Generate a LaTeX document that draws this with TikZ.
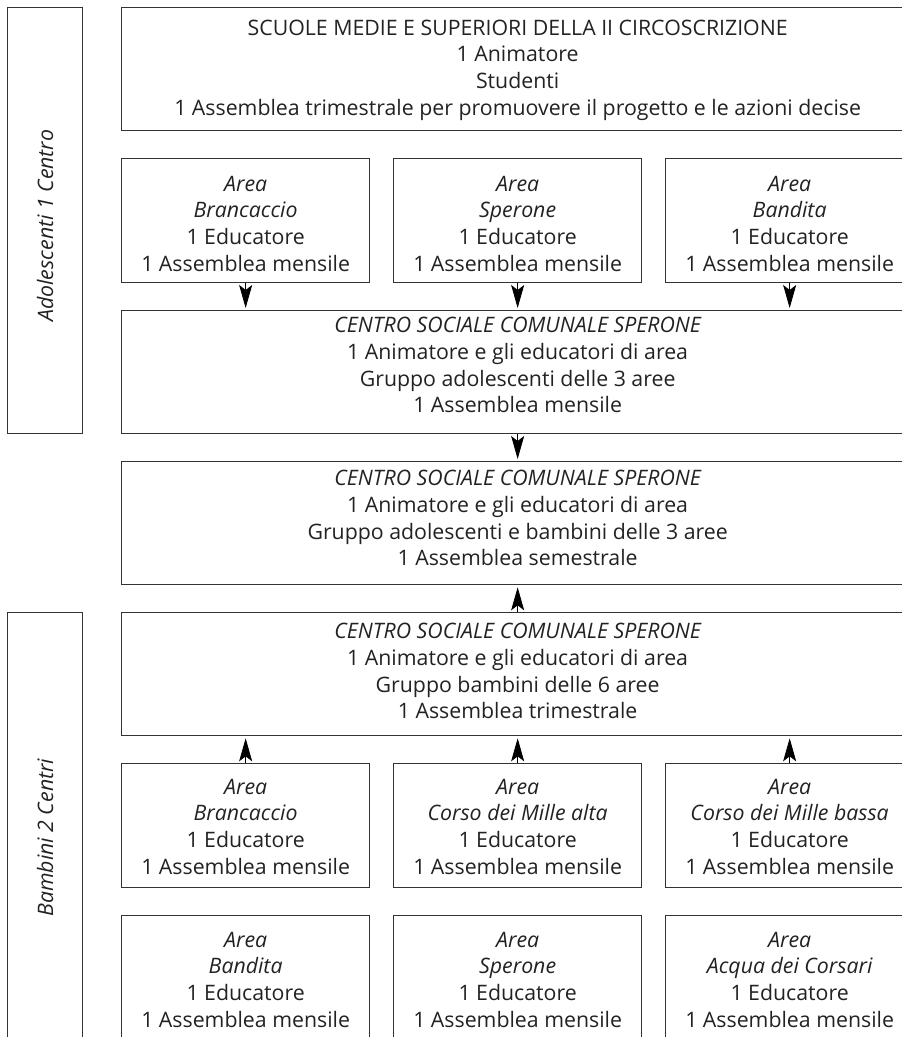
\documentclass[tikz,border=0pt]{standalone}
\usepackage{fontspec}
\setmainfont{Open Sans}
\usetikzlibrary{arrows.meta}
\definecolor{ln}{HTML}{333333}
\definecolor{tx}{HTML}{222222}
\begin{document}
\begin{tikzpicture}[x=1pt,y=-1pt,
  box/.style={draw=ln,line width=1.3pt,rectangle,inner sep=0pt,anchor=north west},
  txt/.style={align=center,text=tx,font=\fontsize{21.3}{26.7}\selectfont,inner sep=0pt},
  side/.style={txt,rotate=90,font=\fontsize{21.3}{26.7}\selectfont\itshape},
  arr/.style={draw=black,line width=0.8pt,-{Stealth[length=23pt,width=13pt,inset=5pt]},shorten >=2pt}]
\useasboundingbox (0,0) rectangle (902,1037);
\clip (0,0) rectangle (902,1037);
% side boxes
\node[box,minimum width=75pt,minimum height=426pt] (s1) at (7,7) {};
\node[side] (s1t) at ([yshift=-5pt]s1.center) {Adolescenti 1 Centro};
\node[box,minimum width=75pt,minimum height=450pt] (s2) at (7,612) {};
\node[side] (s2t) at (s2.center) {Bambini 2 Centri};
% top box
\node[box,minimum width=792pt,minimum height=123pt] (top) at (121,7) {};
\node[txt] (topt) at ([yshift=-1pt]top.center) {SCUOLE MEDIE E SUPERIORI DELLA II CIRCOSCRIZIONE\\1 Animatore\\Studenti\\1 Assemblea trimestrale per promuovere il progetto e le azioni decise};
% area row 1
\node[box,minimum width=248pt,minimum height=124pt] (a1) at (121,158) {};
\node[box,minimum width=248pt,minimum height=124pt] (a2) at (393,158) {};
\node[box,minimum width=248pt,minimum height=124pt] (a3) at (665,158) {};
\node[txt] (a1t) at ([yshift=-3pt]a1.center) {\itshape Area\\\itshape Brancaccio\\1 Educatore\\1 Assemblea mensile};
\node[txt] (a2t) at ([yshift=-3pt]a2.center) {\itshape Area\\\itshape Sperone\\1 Educatore\\1 Assemblea mensile};
\node[txt] (a3t) at ([yshift=-3pt]a3.center) {\itshape Area\\\itshape Bandita\\1 Educatore\\1 Assemblea mensile};
% centro boxes
\node[box,minimum width=792pt,minimum height=123pt] (c1) at (121,310) {};
\node[txt] (c1t) at ([yshift=7pt]c1.center) {\itshape CENTRO SOCIALE COMUNALE SPERONE\\1 Animatore e gli educatori di area\\Gruppo adolescenti delle 3 aree\\1 Assemblea mensile};
\node[box,minimum width=792pt,minimum height=123pt] (c2) at (121,461) {};
\node[txt] (c2t) at ([yshift=5pt]c2.center) {\itshape CENTRO SOCIALE COMUNALE SPERONE\\1 Animatore e gli educatori di area\\Gruppo adolescenti e bambini delle 3 aree\\1 Assemblea semestrale};
\node[box,minimum width=792pt,minimum height=123pt] (c3) at (121,612) {};
\node[txt] (c3t) at ([yshift=3pt]c3.center) {\itshape CENTRO SOCIALE COMUNALE SPERONE\\1 Animatore e gli educatori di area\\Gruppo bambini delle 6 aree\\1 Assemblea trimestrale};
% area row 2
\node[box,minimum width=248pt,minimum height=124pt] (b1) at (121,763) {};
\node[box,minimum width=248pt,minimum height=124pt] (b2) at (393,763) {};
\node[box,minimum width=248pt,minimum height=124pt] (b3) at (665,763) {};
\node[txt] (b1t) at ([yshift=-1pt]b1.center) {\itshape Area\\\itshape Brancaccio\\1 Educatore\\1 Assemblea mensile};
\node[txt] (b2t) at ([yshift=-1pt]b2.center) {\itshape Area\\\itshape Corso dei Mille alta\\1 Educatore\\1 Assemblea mensile};
\node[txt] (b3t) at ([yshift=-1pt]b3.center) {\itshape Area\\\itshape Corso dei Mille bassa\\1 Educatore\\1 Assemblea mensile};
% area row 3
\node[box,minimum width=248pt,minimum height=124pt] (d1) at (121,915) {};
\node[box,minimum width=248pt,minimum height=124pt] (d2) at (393,915) {};
\node[box,minimum width=248pt,minimum height=124pt] (d3) at (665,915) {};
\node[txt] (d1t) at ([yshift=-2pt]d1.center) {\itshape Area\\\itshape Bandita\\1 Educatore\\1 Assemblea mensile};
\node[txt] (d2t) at ([yshift=-2pt]d2.center) {\itshape Area\\\itshape Sperone\\1 Educatore\\1 Assemblea mensile};
\node[txt] (d3t) at ([yshift=-2pt]d3.center) {\itshape Area\\\itshape Acqua dei Corsari\\1 Educatore\\1 Assemblea mensile};
% arrows
\draw[arr] (a1.south) -- (a1.south |- c1.north);
\draw[arr] (a2.south) -- (a2.south |- c1.north);
\draw[arr] (a3.south) -- (a3.south |- c1.north);
\draw[arr] (c1.south) -- (c1.south |- c2.north);
\draw[arr] (c3.north) -- (c3.north |- c2.south);
\draw[arr] (b1.north) -- (b1.north |- c3.south);
\draw[arr] (b2.north) -- (b2.north |- c3.south);
\draw[arr] (b3.north) -- (b3.north |- c3.south);
\end{tikzpicture}
\end{document}
